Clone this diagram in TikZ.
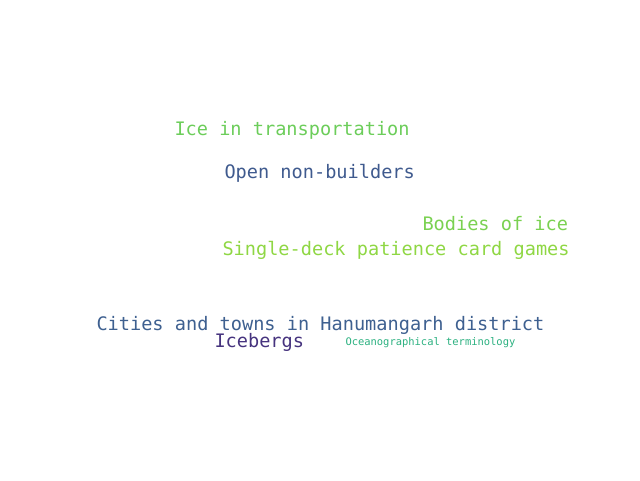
\documentclass[tikz,border=0pt]{standalone}
\usepackage{fontspec}
\newfontfamily\cloudfont{DejaVu Sans Mono}
\definecolor{cA}{HTML}{6CCD5A}
\definecolor{cB}{HTML}{3F5A8E}
\definecolor{cC}{HTML}{7AD151}
\definecolor{cD}{HTML}{8FD744}
\definecolor{cE}{HTML}{3E6090}
\definecolor{cF}{HTML}{46337E}
\definecolor{cG}{HTML}{2AB07F}
\tikzset{
  word/.style={anchor=base west, inner sep=0pt, outer sep=0pt, font=\cloudfont\fontsize{18.6}{20}\selectfont},
  smallword/.style={word, font=\cloudfont\fontsize{10.45}{12}\selectfont}
}
\begin{document}
\begin{tikzpicture}[x=1pt,y=1pt]
\useasboundingbox (0,0) rectangle (640,480);
\node[word, text=cA] (w1) at (174.5,344) {Ice in transportation};
\node[word, text=cB] (w2) at (224.5,301) {Open non-builders};
\node[word, text=cC] (w3) at (422.5,249.5) {Bodies of ice};
\node[word, text=cD] (w4) at (222.5,224.5) {Single-deck patience card games};
\node[word, text=cE] (w5) at (96.5,150) {Cities and towns in Hanumangarh district};
\node[word, text=cF] (w6) at (214.5,133) {Icebergs};
\node[smallword, text=cG] (w7) at (345.5,135) {Oceanographical terminology};
\end{tikzpicture}
\end{document}
